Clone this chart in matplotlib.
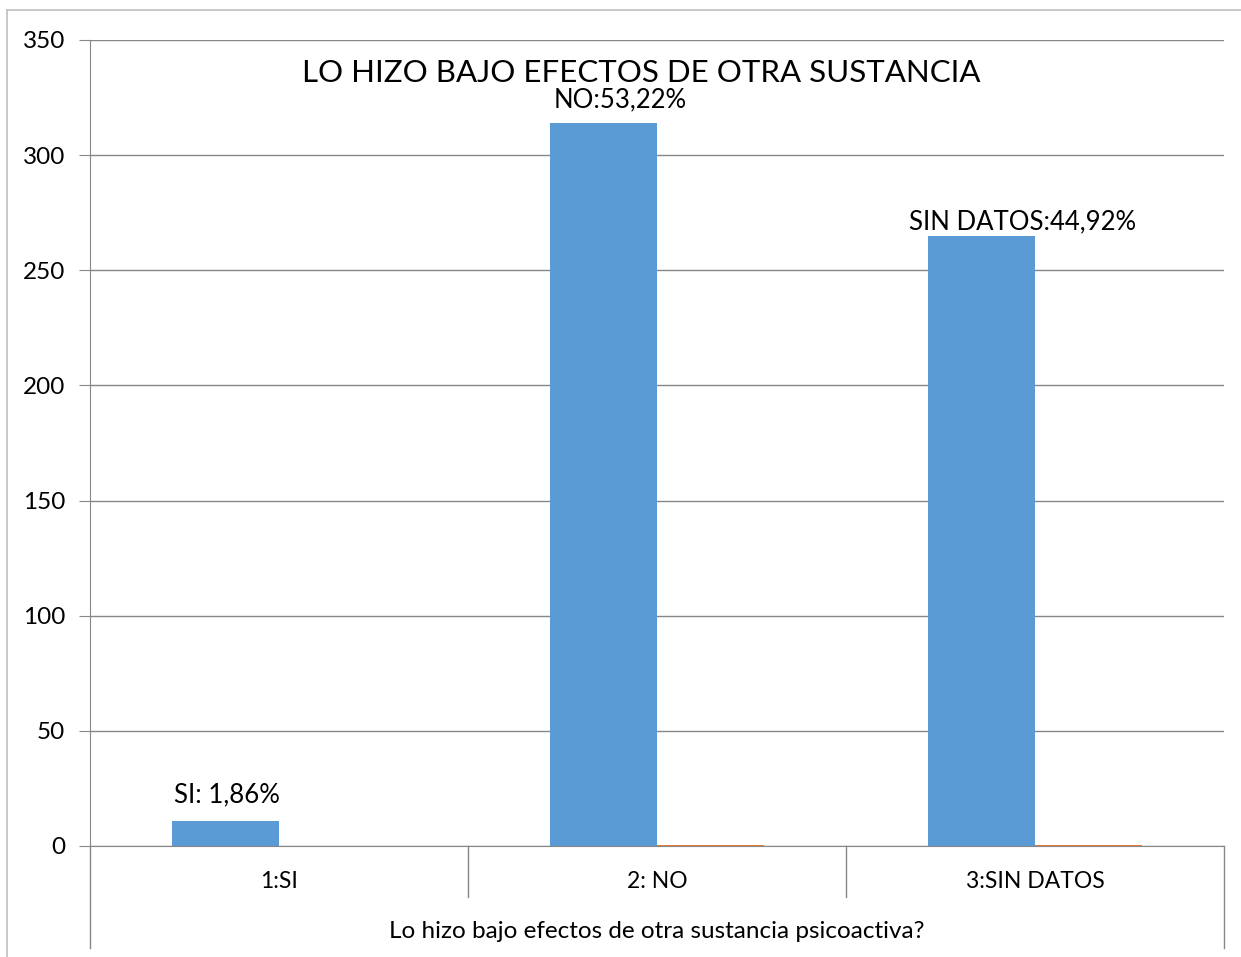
import matplotlib
matplotlib.use("Agg")
import matplotlib.pyplot as plt
from matplotlib.lines import Line2D
from matplotlib.transforms import blended_transform_factory

plt.rcParams['font.family'] = ['Lato', 'DejaVu Sans']

categories = ["1:SI", "2: NO", "3:SIN DATOS"]
counts = [11, 314, 265]
proportions = [0.0186, 0.5322, 0.4492]
bar_labels = ["SI: 1,86%", "NO:53,22%", "SIN DATOS:44,92%"]
label_offsets_px = [(1, 13), (17, 11), (41, 1)]
yticks = [0, 50, 100, 150, 200, 250, 300, 350]
title = "LO HIZO BAJO EFECTOS DE OTRA SUSTANCIA"
xlabel = "Lo hizo bajo efectos de otra sustancia psicoactiva?"

W, H = 1241, 957
fig = plt.figure(figsize=(W / 100, H / 100), dpi=100)
ax = fig.add_axes([90 / W, 1 - 846 / H, (1224 - 90) / W, (846 - 40) / H])

grid_c = "#878787"
blue = "#5B9BD5"
orange = "#ED7D31"
bw = 107 / 378
x = list(range(len(categories)))
ax.bar([i - bw / 2 for i in x], counts, width=bw, color=blue, zorder=3)
ax.bar([i + bw / 2 for i in x], proportions, width=bw, color=orange, zorder=3)

ax.set_xlim(-0.5, len(categories) - 0.5)
ax.set_ylim(0, 350)
ax.set_yticks(yticks)
ax.set_yticklabels([str(t) for t in yticks], fontsize=17.5)
ax.yaxis.grid(True, color=grid_c, linewidth=1, zorder=0)
ax.tick_params(axis='y', length=8, color=grid_c, pad=10)
ax.set_xticks([])
for s in ["top", "right"]:
    ax.spines[s].set_visible(False)
ax.spines["left"].set_color(grid_c)
ax.spines["bottom"].set_color(grid_c)
ax.spines["bottom"].set_zorder(4)

# category box below axis
tr = blended_transform_factory(ax.transData, ax.transAxes)
px = 1 / 806
for xb in [0.5, 1.5]:
    ax.add_line(Line2D([xb, xb], [0, -(897 - 846) * px], color=grid_c, lw=1,
                       transform=tr, clip_on=False))
for xb in [-0.5, 2.5]:
    ax.add_line(Line2D([xb, xb], [0, -(948 - 846) * px], color=grid_c, lw=1,
                       transform=tr, clip_on=False))
for i, c in enumerate(categories):
    ax.text(i, -(881 - 846) * px, c, transform=tr, ha="center", va="center", fontsize=16.5)
ax.text(1, -(932 - 846) * px, xlabel, transform=tr, ha="center", va="center", fontsize=17.5)

# data labels
for i, (v, lab) in enumerate(zip(counts, bar_labels)):
    ax.annotate(lab, xy=(i - bw / 2, v), xytext=label_offsets_px[i], textcoords="offset pixels",
                ha="center", va="bottom", fontsize=18.5, zorder=5)

fig.text(641 / W, 1 - 73 / H, title, ha="center", va="center", fontsize=22.5)

# outer chart border (clipped by figure)
fig.add_artist(Line2D([7 / W, 1], [1 - 10 / H, 1 - 10 / H], color="#BFBFBF", lw=1.2,
                      transform=fig.transFigure))
fig.add_artist(Line2D([7 / W, 7 / W], [0, 1 - 10 / H], color="#BFBFBF", lw=1.2,
                      transform=fig.transFigure))

fig.savefig("out.png", dpi=100)
